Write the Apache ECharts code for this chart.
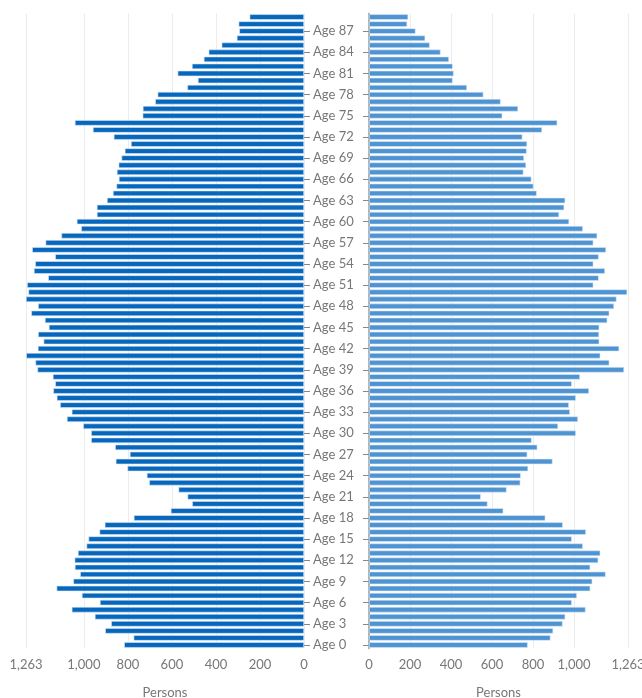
<!DOCTYPE html>
<html>
<head>
<meta charset="utf-8">
<script src="https://cdn.jsdelivr.net/npm/echarts@6/dist/echarts.min.js"></script>
<style>
  html, body { margin: 0; padding: 0; background: #fff; }
  #main { width: 642px; height: 698px; }
</style>
</head>
<body>
<div id="main"></div>
<script>
// age groups 0..89
const ages = [];
for (let a = 0; a <= 89; a++) ages.push('Age ' + a);

// left side (dark blue), index = age
const leftValues = [
  817, 774, 903, 876, 950, 1055, 927, 1009, 1124, 1048,
  1017, 1041, 1042, 1027, 988, 979, 929, 905, 773, 605,
  508, 529, 570, 703, 714, 802, 855, 791, 858, 967,
  967, 1003, 1077, 1055, 1108, 1123, 1139, 1130, 1141, 1211,
  1220, 1262, 1209, 1183, 1208, 1159, 1177, 1239, 1208, 1263,
  1252, 1258, 1162, 1227, 1221, 1130, 1235, 1174, 1102, 1012,
  1032, 941, 941, 895, 868, 852, 841, 850, 842, 829,
  814, 786, 864, 959, 1041, 733, 732, 676, 665, 530,
  482, 574, 509, 455, 433, 374, 305, 294, 297, 247
];

// right side (light blue), index = age
const rightValues = [
  774, 885, 898, 944, 957, 1056, 989, 1014, 1079, 1089,
  1154, 1079, 1118, 1128, 1043, 989, 1058, 945, 860, 655,
  578, 545, 671, 738, 740, 776, 895, 772, 821, 793,
  1009, 922, 1019, 980, 975, 1009, 1073, 989, 1029, 1244,
  1172, 1128, 1220, 1123, 1122, 1123, 1162, 1172, 1195, 1207,
  1259, 1094, 1120, 1151, 1094, 1120, 1156, 1094, 1113, 1043,
  976, 927, 952, 957, 818, 802, 792, 753, 766, 756,
  769, 771, 748, 844, 918, 650, 727, 642, 558, 478,
  408, 413, 408, 390, 349, 296, 274, 227, 186, 191
];

const axisMax = 1263;
const tickValues = [0, 200, 400, 600, 800, 1000, 1263];

const myChart = echarts.init(document.getElementById('main'));

const textStyle = { fontFamily: 'Lato', fontSize: 13, color: '#777' };

function valueAxis(gridIndex, inverse) {
  return {
    type: 'value',
    gridIndex: gridIndex,
    inverse: inverse,
    min: 0,
    max: axisMax,
    name: 'Persons',
    nameLocation: 'middle',
    nameGap: 38,
    nameTextStyle: textStyle,
    axisLine: { show: false },
    axisTick: { show: false, customValues: tickValues },
    axisLabel: Object.assign({
      customValues: tickValues,
      margin: 10,
      formatter: v => v.toLocaleString('en-US')
    }, textStyle),
    splitLine: { show: true, lineStyle: { color: '#ececec', width: 1 } }
  };
}

const option = {
  animation: false,
  grid: [
    { left: 26, right: 338, top: 13.5, bottom: 49.5, outerBoundsMode: 'none' },
    { left: 369, right: 14, top: 13.5, bottom: 49.5, outerBoundsMode: 'none' }
  ],
  xAxis: [valueAxis(0, true), valueAxis(1, false)],
  yAxis: [
    {
      type: 'category',
      gridIndex: 0,
      position: 'right',
      data: ages,
      axisLine: { show: false },
      axisTick: { show: true, interval: 2, alignWithLabel: true, length: 6, lineStyle: { color: '#888' } },
      axisLabel: Object.assign({ interval: 2, margin: 9, align: 'left' }, textStyle)
    },
    {
      type: 'category',
      gridIndex: 1,
      position: 'left',
      data: ages,
      axisLine: { show: true, lineStyle: { color: '#999', width: 1.5 } },
      axisTick: { show: true, interval: 2, alignWithLabel: true, length: 6, lineStyle: { color: '#888' } },
      axisLabel: { show: false }
    }
  ],
  series: [
    {
      type: 'bar',
      xAxisIndex: 0,
      yAxisIndex: 0,
      data: leftValues,
      barCategoryGap: '22%',
      itemStyle: { color: '#0667bd', borderColor: '#d6e6f6', borderWidth: 0.6 }
    },
    {
      type: 'bar',
      xAxisIndex: 1,
      yAxisIndex: 1,
      data: rightValues,
      barCategoryGap: '22%',
      itemStyle: { color: '#4f94d2', borderColor: '#dde9f6', borderWidth: 0.6 }
    }
  ]
};

myChart.setOption(option);
</script>
</body>
</html>
